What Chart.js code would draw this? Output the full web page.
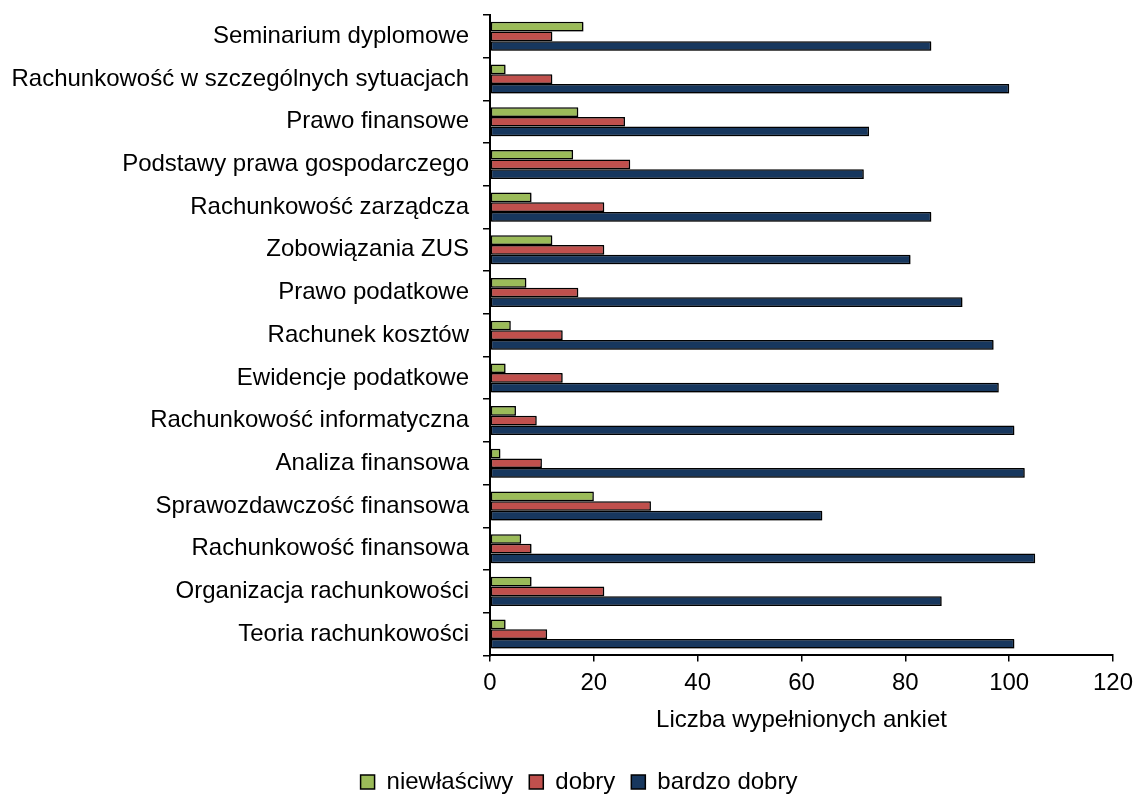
<!DOCTYPE html>
<html lang="pl">
<head>
<meta charset="utf-8">
<title>Ocena przedmiotów</title>
<script src="https://cdn.jsdelivr.net/npm/chart.js@4/dist/chart.umd.min.js"></script>
<style>
  html, body { margin: 0; padding: 0; background: #fff; }
  #wrap { width: 1135px; height: 797px; }
</style>
</head>
<body>
<div id="wrap"><canvas id="chart" width="1135" height="797"></canvas></div>
<script>
const subjects = [
  'Seminarium dyplomowe',
  'Rachunkowość w szczególnych sytuacjach',
  'Prawo finansowe',
  'Podstawy prawa gospodarczego',
  'Rachunkowość zarządcza',
  'Zobowiązania ZUS',
  'Prawo podatkowe',
  'Rachunek kosztów',
  'Ewidencje podatkowe',
  'Rachunkowość informatyczna',
  'Analiza finansowa',
  'Sprawozdawczość finansowa',
  'Rachunkowość finansowa',
  'Organizacja rachunkowości',
  'Teoria rachunkowości',
];
const niewlasciwy = [18, 3, 17, 16, 8, 12, 7, 4, 3, 5, 2, 20, 6, 8, 3];
const dobry = [12, 12, 26, 27, 22, 22, 17, 14, 14, 9, 10, 31, 8, 22, 11];
const bardzoDobry = [85, 100, 73, 72, 85, 81, 91, 97, 98, 101, 103, 64, 105, 87, 101];
const xTicks = [0, 20, 40, 60, 80, 100, 120];

const font = { family: "'Liberation Sans', Arial, sans-serif", size: 24 };

// light drop shadow under the bars, like the spreadsheet original
const barShadow = {
  id: 'barShadow',
  beforeDatasetsDraw(chart) {
    const ctx = chart.ctx;
    ctx.save();
    ctx.shadowColor = 'rgba(0, 0, 0, 0.35)';
    ctx.shadowOffsetX = 1;
    ctx.shadowOffsetY = 1;
    ctx.shadowBlur = 1;
  },
  afterDatasetsDraw(chart) {
    chart.ctx.restore();
  },
};

// the left padding is only there to push the legend centre right;
// let the y axis box reach the canvas edge again so long labels are not clipped
const widenYAxis = {
  id: 'widenYAxis',
  afterLayout(chart) {
    const y = chart.scales.y;
    y.width += y.left;
    y.left = 0;
  },
};

function series(label, data, color) {
  return {
    label,
    data,
    backgroundColor: color,
    borderColor: '#000',
    borderWidth: 1.5,
    borderSkipped: false,
    categoryPercentage: 0.68,
    barPercentage: 1,
  };
}

new Chart(document.getElementById('chart'), {
  type: 'bar',
  data: {
    labels: subjects,
    datasets: [
      series('niewłaściwy', niewlasciwy, '#9BBB59'),
      series('dobry', dobry, '#C0504D'),
      series('bardzo dobry', bardzoDobry, '#17375E'),
    ],
  },
  options: {
    indexAxis: 'y',
    responsive: false,
    animation: false,
    layout: { padding: { left: 45, right: 22, top: 15, bottom: -7 } },
    plugins: {
      tooltip: { enabled: false },
      legend: {
        position: 'bottom',
        labels: {
          color: '#000',
          font,
          boxWidth: 14,
          boxHeight: 14,
          padding: 16,
        },
      },
    },
    scales: {
      x: {
        min: 0,
        max: 120,
        afterBuildTicks: (scale) => {
          scale.ticks = xTicks.map((value) => ({ value }));
        },
        afterFit: (scale) => {
          scale.paddingLeft = 0;
          scale.paddingRight = 0;
        },
        ticks: { color: '#000', font, padding: 8 },
        grid: { drawOnChartArea: false, color: '#000', tickLength: 6, lineWidth: 1.5 },
        border: { color: '#000', width: 2 },
        title: {
          display: true,
          text: 'Liczba wypełnionych ankiet',
          color: '#000',
          font,
          padding: { top: 0, bottom: 19 },
        },
      },
      y: {
        afterFit: (scale) => {
          scale.width = 445;
          scale.paddingTop = 0;
          scale.paddingBottom = 0;
        },
        ticks: { color: '#000', font, padding: 14, autoSkip: false },
        grid: { drawOnChartArea: false, color: '#000', tickLength: 7, lineWidth: 1.5, offset: true },
        border: { color: '#000', width: 2 },
      },
    },
  },
  plugins: [barShadow, widenYAxis],
});
</script>
</body>
</html>
